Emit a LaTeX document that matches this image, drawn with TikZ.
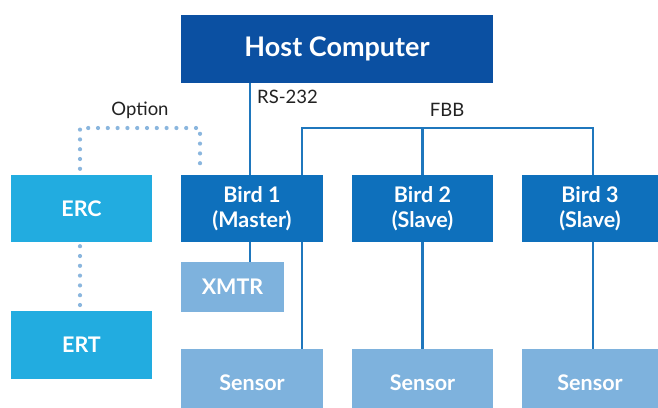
\documentclass[tikz,border=0pt]{standalone}
\usepackage{fontspec}
\setmainfont{Lato}
\usetikzlibrary{calc}
\definecolor{hostc}{HTML}{0B50A2}
\definecolor{birdc}{HTML}{0E70BC}
\definecolor{ercc}{HTML}{22ACE0}
\definecolor{lightc}{HTML}{7EB2DD}
\definecolor{linec}{HTML}{1F77BD}
\definecolor{dotc}{HTML}{8AB6DE}
\definecolor{labc}{HTML}{222222}
\begin{document}
\begin{tikzpicture}[x=1pt,y=-1pt,
  box/.style={rectangle, inner sep=0pt, text=white, font=\bfseries\fontsize{21.5}{25}\selectfont, align=center},
  hostbox/.style={box, fill=hostc, minimum width=312pt, minimum height=68pt, font=\bfseries\fontsize{27}{30}\selectfont},
  birdbox/.style={box, fill=birdc, minimum height=67pt},
  ercbox/.style={box, fill=ercc, minimum width=141pt, minimum height=67pt},
  lightbox/.style={box, fill=lightc},
  conn/.style={draw=linec, line width=2.6pt},
  dotline/.style={draw=dotc, line width=4.2pt, line cap=round, dash pattern=on 0pt off 9.8pt},
  lab/.style={text=labc, font=\fontsize{18.5}{21}\selectfont, inner sep=0pt}
]
\useasboundingbox (0,0) rectangle (658,407);
\clip (0,0) rectangle (658,407);
\fill[white] (0,0) rectangle (658,407);

\node[hostbox] (host) at (337,49) {Host Computer};
\node[birdbox, minimum width=142pt] (bird1) at (252,208.5) {Bird 1\\(Master)};
\node[birdbox, minimum width=141pt] (bird2) at (422.5,208.5) {Bird 2\\(Slave)};
\node[birdbox, minimum width=136pt] (bird3) at (590,208.5) {Bird 3\\(Slave)};
\node[ercbox] (erc) at (81.5,208.5) {ERC};
\node[ercbox, minimum height=68pt] (ert) at (81.5,345) {ERT};
\node[lightbox, minimum width=103pt, minimum height=50pt] (xmtr) at (232.5,287) {XMTR};
\node[lightbox, minimum width=142pt, minimum height=68pt] (sensor1) at (252,383) {Sensor};
\node[lightbox, minimum width=141pt, minimum height=68pt] (sensor2) at (422.5,383) {Sensor};
\node[lightbox, minimum width=136pt, minimum height=68pt] (sensor3) at (590,383) {Sensor};

\coordinate (fbbL) at (302,128);
\coordinate (fbbR) at (593,128);
\coordinate (rs) at (250,128);
\coordinate (optL) at (80,128);
\coordinate (optR) at (200,128);

% RS-232
\draw[conn] (host.south -| rs) -- (bird1.north -| rs);
% FBB bus
\draw[conn] (bird1.north -| fbbL) -- (fbbL) -- (fbbR) -- (bird3.north -| fbbR);
\draw[conn] (bird2.north) -- (bird2.north |- fbbL);
% down connections
\draw[conn] (bird1.south -| fbbL) -- (sensor1.north -| fbbL);
\draw[conn] (bird1.south -| rs) -- (xmtr.north -| rs);
\draw[conn] (bird2.south) -- (sensor2.north);
\draw[conn] (bird3.south -| fbbR) -- (sensor3.north -| fbbR);

% option dotted
\draw[dotline] ($(erc.north -| optL)+(0,-6)$) -- (optL) -- (optR) -- ($(bird1.north -| optR)+(0,-6)$);
\draw[dotline] ($(erc.south -| optL)+(0,4)$) -- ($(ert.north -| optL)+(0,-2)$);

\node[lab, anchor=west] (rslab) at (257,97) {RS-232};
\node[lab] (fbblab) at (447,110) {FBB};
\node[lab] (optlab) at (140,110) {Option};
\end{tikzpicture}
\end{document}
